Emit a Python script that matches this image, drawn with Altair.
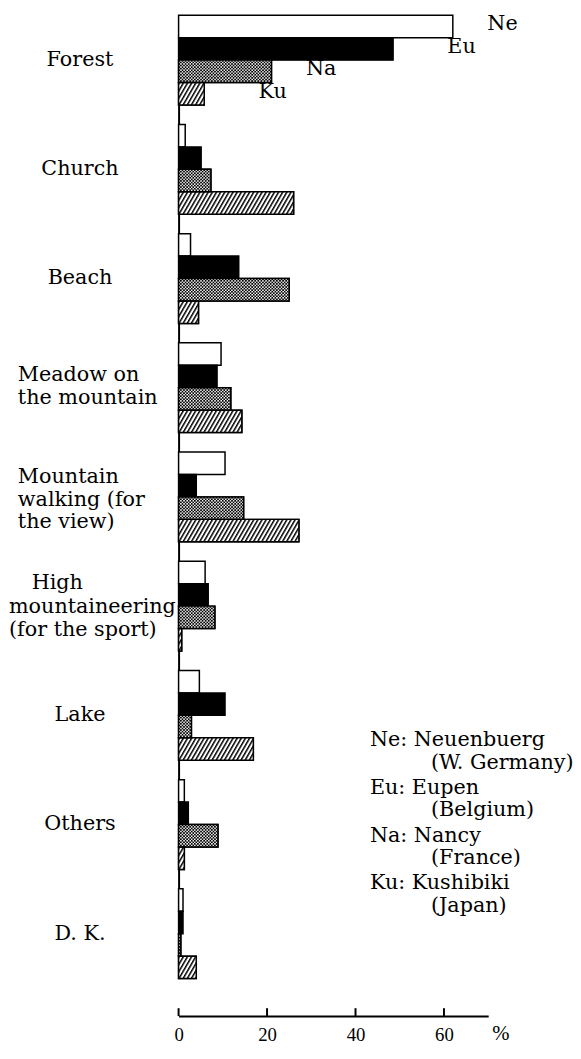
import altair as alt
import pandas as pd
from urllib.parse import quote

# ---------------- data ----------------
categories = ["Forest", "Church", "Beach", "Meadow on the mountain",
              "Mountain walking (for the view)", "High mountaineering (for the sport)",
              "Lake", "Others", "D. K."]
category_lines = ["Forest", "Church", "Beach", "Meadow on\nthe mountain",
                  "Mountain\nwalking (for\nthe view)",
                  "High\nmountaineering\n(for the sport)",
                  "Lake", "Others", "D. K."]
series = ["Ne", "Eu", "Na", "Ku"]
ne = [62.0, 1.5, 2.7, 9.6, 10.5, 6.0, 4.7, 1.3, 1.0]
eu = [48.5, 5.1, 13.6, 8.7, 4.0, 6.7, 10.5, 2.2, 1.0]
na = [21.0, 7.3, 25.0, 11.8, 14.7, 8.2, 2.9, 8.9, 0.5]
ku = [5.8, 26.0, 4.5, 14.3, 27.2, 0.7, 16.9, 1.3, 4.0]
legend_places = ["Neuenbuerg", "Eupen", "Nancy", "Kushibiki"]
legend_countries = ["(W. Germany)", "(Belgium)", "(France)", "(Japan)"]
x_ticks = [0, 20, 40, 60]

# ---------------- styling ----------------
SERIF = "DejaVu Serif"
AXIS_SERIF = "Liberation Serif"
W, H = 314, 977
AX_OFF = 38
PX_PER_UNIT = W / 70.0
BAR_PX = 22.76
PAT_H = BAR_PX / PX_PER_UNIT


def pattern_url(kind, v):
    if kind == "Ku":
        defs = ('<pattern id="p" patternUnits="userSpaceOnUse" width="0.81" height="20" '
                'patternTransform="rotate(30)"><rect width="0.34" height="20" fill="black"/></pattern>')
    else:
        defs = ('<pattern id="p" patternUnits="userSpaceOnUse" width="0.7" height="0.7">'
                '<circle cx="0.175" cy="0.175" r="0.22" fill="black"/>'
                '<circle cx="0.525" cy="0.525" r="0.22" fill="black"/></pattern>')
    svg = (f'<svg xmlns="http://www.w3.org/2000/svg" width="{v * PX_PER_UNIT:.2f}" height="{BAR_PX:.2f}" '
           f'viewBox="0 0 {v} {PAT_H:.4f}" preserveAspectRatio="none"><defs>{defs}</defs>'
           f'<rect width="{v}" height="{PAT_H:.4f}" fill="white"/>'
           f'<rect width="{v}" height="{PAT_H:.4f}" fill="url(#p)"/></svg>')
    return "data:image/svg+xml," + quote(svg)


rows = []
for i, c in enumerate(categories):
    for s, arr in zip(series, [ne, eu, na, ku]):
        rows.append({"cat": c, "series": s, "value": arr[i]})
df = pd.DataFrame(rows)
df_pat = df[df["series"].isin(["Na", "Ku"])].copy()
df_pat["url"] = [pattern_url(s, v) for s, v in zip(df_pat["series"], df_pat["value"])]

lab_first = [t.split("\n", 1)[0] for t in category_lines]
lab_rest = [t.split("\n", 1)[1] if "\n" in t else "" for t in category_lines]
df_lab = pd.DataFrame({"cat": categories, "label": category_lines,
                       "first": lab_first, "rest": lab_rest})
df_forest = df[df["cat"] == categories[0]]

xscale = alt.Scale(domain=[0, 70], nice=False, zero=True)
yscale = alt.Scale(domain=categories, paddingInner=0.178, paddingOuter=0)
yoff_scale = alt.Scale(domain=series, paddingInner=0, paddingOuter=0)

x_axis = alt.Axis(values=x_ticks, offset=AX_OFF, ticks=False, tickSize=0, grid=False,
                  domainColor="black", domainWidth=2, labelFont=AXIS_SERIF, labelFontSize=19,
                  labelColor="black", labelPadding=10, title=None, labelFlush=False)
y_axis = alt.Axis(labels=False, ticks=False, domain=True, domainColor="black",
                  domainWidth=2, title=None, grid=False)

X = alt.X("value:Q", scale=xscale, axis=x_axis)
Y = alt.Y("cat:N", scale=yscale, sort=categories, axis=y_axis)
YO = alt.YOffset("series:N", scale=yoff_scale, sort=series)

fills = alt.Chart(df).mark_bar(stroke="black", strokeWidth=1.5).encode(
    x=X, y=Y, yOffset=YO,
    fill=alt.Fill("series:N", scale=alt.Scale(domain=series, range=["white", "black", "white", "white"]),
                  legend=None),
)

patterns = alt.Chart(df_pat).mark_image(aspect=False).encode(
    x=X, x2=alt.datum(0), y=Y, yOffset=YO, url="url:N"
)

outlines = alt.Chart(df_pat).mark_bar(fillOpacity=0, stroke="black", strokeWidth=1.5).encode(
    x=X, y=Y, yOffset=YO
)

tick_rules = alt.Chart(pd.DataFrame({"value": x_ticks})).mark_rule(color="black", strokeWidth=2).encode(
    x=X, y=alt.value(H + AX_OFF - 8), y2=alt.value(H + AX_OFF)
)

txt = dict(font=SERIF, fontSize=21, color="black", lineBreak="\n", lineHeight=24,
           baseline="middle")


def only(field, values):
    return alt.FieldOneOfPredicate(field=field, oneOf=values)


labels_center = alt.Chart(df_lab).mark_text(align="center", **txt).encode(
    y=Y, x=alt.value(-100), text="label:N"
).transform_filter(only("cat", [categories[i] for i in (0, 1, 2, 6, 7, 8)]))

labels_meadow = alt.Chart(df_lab).mark_text(align="left", dy=-13, **txt).encode(
    y=Y, x=alt.value(-163), text="label:N"
).transform_filter(only("cat", [categories[3]]))

labels_walk = alt.Chart(df_lab).mark_text(align="left", dy=-20, **{**txt, "lineHeight": 23}).encode(
    y=Y, x=alt.value(-163), text="label:N"
).transform_filter(only("cat", [categories[4]]))

labels_high1 = alt.Chart(df_lab).mark_text(align="left", dy=-23, **txt).encode(
    y=Y, x=alt.value(-149), text="first:N"
).transform_filter(only("cat", [categories[5]]))

labels_high2 = alt.Chart(df_lab).mark_text(align="left", dy=1, **{**txt, "lineHeight": 23}).encode(
    y=Y, x=alt.value(-172), text="rest:N"
).transform_filter(only("cat", [categories[5]]))

ser_a = alt.Chart(df_forest).mark_text(align="left", dx=35, dy=-2, **txt).encode(
    x=X, y=Y, yOffset=YO, text="series:N"
).transform_filter(only("series", ["Ne", "Na"]))

ser_b = alt.Chart(df_forest).mark_text(align="left", dx=55, dy=-2, **txt).encode(
    x=X, y=Y, yOffset=YO, text="series:N"
).transform_filter(only("series", ["Eu", "Ku"]))

main_text = "\n".join(f"{s}: {p}" for s, p in zip(series, legend_places))
paren_text = "\n".join(legend_countries)
leg = dict(font=SERIF, fontSize=21, color="black", lineBreak="\n",
           lineHeight=48.5, baseline="middle", align="left")
legend_main = alt.Chart(pd.DataFrame({"t": [main_text]})).mark_text(**leg).encode(
    x=alt.value(194), y=alt.value(735), text="t:N")
legend_paren = alt.Chart(pd.DataFrame({"t": [paren_text]})).mark_text(**leg).encode(
    x=alt.value(256), y=alt.value(758), text="t:N")

pct = alt.Chart(pd.DataFrame({"t": ["%"]})).mark_text(
    font=AXIS_SERIF, fontSize=21, color="black", align="left", baseline="middle").encode(
    x=alt.value(318), y=alt.value(H + AX_OFF + 18), text="t:N")

chart = alt.layer(
    fills, patterns, outlines, tick_rules,
    labels_center, labels_meadow, labels_walk, labels_high1, labels_high2, ser_a, ser_b,
    legend_main, legend_paren, pct
).properties(
    width=W, height=H,
    autosize=alt.AutoSizeParams(type="none"),
    padding={"left": 173, "top": 0, "right": 86, "bottom": 62},
    background="white",
).configure_view(strokeWidth=0)

chart.save("out.html", embed_options={"renderer": "svg", "actions": False})
